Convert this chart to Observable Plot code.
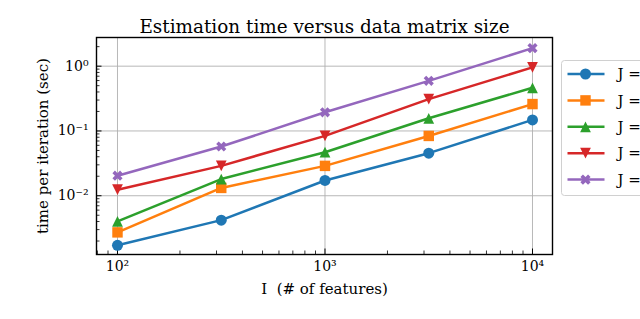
<!DOCTYPE html>
<html><head><meta charset="utf-8">
<script src="https://cdn.jsdelivr.net/npm/d3@7"></script>
<script src="https://cdn.jsdelivr.net/npm/@observablehq/plot@0.6"></script>
<style>
html,body{margin:0;padding:0;background:#fff;overflow:hidden;}
#chart svg{display:block;}
</style></head><body><div id="chart"></div>
<script>
// ---- data ----
const features = [100, 316.23, 1000, 3162.3, 10000];
const seriesLabels = ["J = 2", "J = 4", "J = 8", "J = 16", "J = 32"];
const seriesColors = ["#1f77b4", "#ff7f0e", "#2ca02c", "#d62728", "#9467bd"];
const timeJ1 = [0.00172, 0.0042, 0.0172, 0.0454, 0.148];
const timeJ2 = [0.00272, 0.0132, 0.0289, 0.0838, 0.26];
const timeJ3 = [0.00403, 0.0181, 0.047, 0.157, 0.464];
const timeJ4 = [0.0124, 0.0289, 0.084, 0.31, 0.96];
const timeJ5 = [0.0204, 0.0575, 0.194, 0.594, 1.9];
const xTicks = [100, 1000, 10000];
const xTickLabels = ["10²", "10³", "10⁴"];
const yTicks = [0.01, 0.1, 1];
const yTickLabels = ["10⁻²", "10⁻¹", "10⁰"];
const titleText = "Estimation time versus data matrix size";
const xLabel = "I  (# of features)";
const yLabel = "time per iteration (sec)";

// ---- build ----
const allSeries = [timeJ1, timeJ2, timeJ3, timeJ4, timeJ5];
const rows = [];
allSeries.forEach((vals, s) => vals.forEach((t, i) => rows.push({I: features[i], t, J: seriesLabels[s]})));

const xDomain = [10 ** 1.8988, 10 ** 4.0964];
const yDomain = [10 ** -2.907, 10 ** 0.4426];
const inside = (v, [a, b]) => v >= a && v <= b;
const minorX = [];
for (const p of [10, 100, 1000]) for (let k = 2; k <= 9; k++) if (inside(k * p, xDomain)) minorX.push(k * p);
const minorY = [];
for (const p of [0.001, 0.01, 0.1, 1]) for (let k = 2; k <= 9; k++) if (inside(k * p, yDomain)) minorY.push(k * p);

const rad = s => Math.sqrt(s / Math.PI);
const symCircle = {draw(c, s) { const r = rad(s); c.moveTo(r, 0); c.arc(0, 0, r, 0, 2 * Math.PI); c.closePath(); }};
const symSquare = {draw(c, s) { const h = rad(s) * 0.95; c.rect(-h, -h, 2 * h, 2 * h); }};
const symTriUp = {draw(c, s) { const h = rad(s) * 0.98; c.moveTo(0, -h); c.lineTo(h, h); c.lineTo(-h, h); c.closePath(); }};
const symTriDown = {draw(c, s) { const h = rad(s) * 0.98; c.moveTo(0, h); c.lineTo(h, -h); c.lineTo(-h, -h); c.closePath(); }};
const symX = {draw(c, s) {
  const u = rad(s) * 0.98 / 3;
  const pts = [[-1,-3],[1,-3],[1,-1],[3,-1],[3,1],[1,1],[1,3],[-1,3],[-1,1],[-3,1],[-3,-1],[-1,-1]];
  const a = Math.PI / 4, ca = Math.cos(a), sa = Math.sin(a);
  pts.forEach(([x, y], i) => { const X = (x * ca - y * sa) * u, Y = (x * sa + y * ca) * u; i ? c.lineTo(X, Y) : c.moveTo(X, Y); });
  c.closePath();
}};
const seriesSymbols = [symCircle, symSquare, symTriUp, symTriDown, symX];

const W = 640, H = 319, mL = 96, mR = 88, mT = 37, mB = 65;
const fw = W - mL - mR, fh = H - mT - mB;
const serif = "DejaVu Serif";

const chart = Plot.plot({
  width: W, height: H,
  marginLeft: mL, marginRight: mR, marginTop: mT, marginBottom: mB,
  style: {fontFamily: serif, fontSize: "13px", background: "white", color: "black"},
  x: {type: "log", domain: xDomain},
  y: {type: "log", domain: yDomain},
  color: {domain: seriesLabels, range: seriesColors},
  symbol: {domain: seriesLabels, range: seriesSymbols},
  marks: [
    Plot.gridX(xTicks, {stroke: "#b0b0b0", strokeOpacity: 1, strokeWidth: 0.9}),
    Plot.gridY(yTicks, {stroke: "#b0b0b0", strokeOpacity: 1, strokeWidth: 0.9}),
    Plot.ruleX(minorX, {stroke: "black", strokeWidth: 0.8, insetTop: fh - 3.5}),
    Plot.ruleX(xTicks, {stroke: "black", strokeWidth: 1, insetTop: fh - 5.5}),
    Plot.ruleY(minorY, {stroke: "black", strokeWidth: 0.8, insetRight: fw - 3.5}),
    Plot.ruleY(yTicks, {stroke: "black", strokeWidth: 1, insetRight: fw - 5.5}),
    Plot.line(rows, {x: "I", y: "t", z: "J", stroke: "J", strokeWidth: 2.5}),
    Plot.dot(rows, {x: "I", y: "t", symbol: "J", fill: "J", r: 5.5, stroke: "none"}),
    Plot.frame({stroke: "black", strokeWidth: 1.4}),
    Plot.axisX(xTicks, {tickSize: 0, tickPadding: 7, tickFormat: d => xTickLabels[xTicks.indexOf(d)], label: null, fontSize: 14}),
    Plot.axisY(yTicks, {tickSize: 0, tickPadding: 8, tickFormat: d => yTickLabels[yTicks.indexOf(d)], label: null, fontSize: 14}),
    Plot.text([titleText], {text: d => d, frameAnchor: "top", dy: -18, fontSize: 18.4}),
    Plot.text([xLabel], {text: d => d, frameAnchor: "bottom", dy: 39, fontSize: 15}),
    Plot.text([yLabel], {text: d => d, frameAnchor: "left", textAnchor: "middle", rotate: -90, dx: -53, fontSize: 15})
  ]
});
document.getElementById("chart").appendChild(chart);

// ---- legend (partly outside the window, as in the reference) ----
const svg = d3.select(chart);
const lx = W - mR + 9.5, ly = 60.5, step = 26.4;
const lg = svg.append("g").attr("class", "legend").attr("text-anchor", "start");
lg.append("rect").attr("x", lx).attr("y", ly).attr("width", 110).attr("height", 135)
  .attr("rx", 3).attr("fill", "white").attr("fill-opacity", 0.8).attr("stroke", "#d0d0d0");
seriesLabels.forEach((lab, i) => {
  const cy = ly + 13.5 + i * step;
  lg.append("line").attr("x1", lx + 6).attr("x2", lx + 43).attr("y1", cy).attr("y2", cy)
    .attr("stroke", seriesColors[i]).attr("stroke-width", 2.5);
  const p = d3.path();
  seriesSymbols[i].draw(p, 5.5 * 5.5 * Math.PI);
  lg.append("path").attr("d", p.toString()).attr("transform", `translate(${lx + 24},${cy})`).attr("fill", seriesColors[i]);
  lg.append("text").attr("x", lx + 56).attr("y", cy).attr("dy", "0.35em")
    .attr("font-family", serif).attr("font-size", 15).attr("fill", "black").text(lab);
});
</script></body></html>
